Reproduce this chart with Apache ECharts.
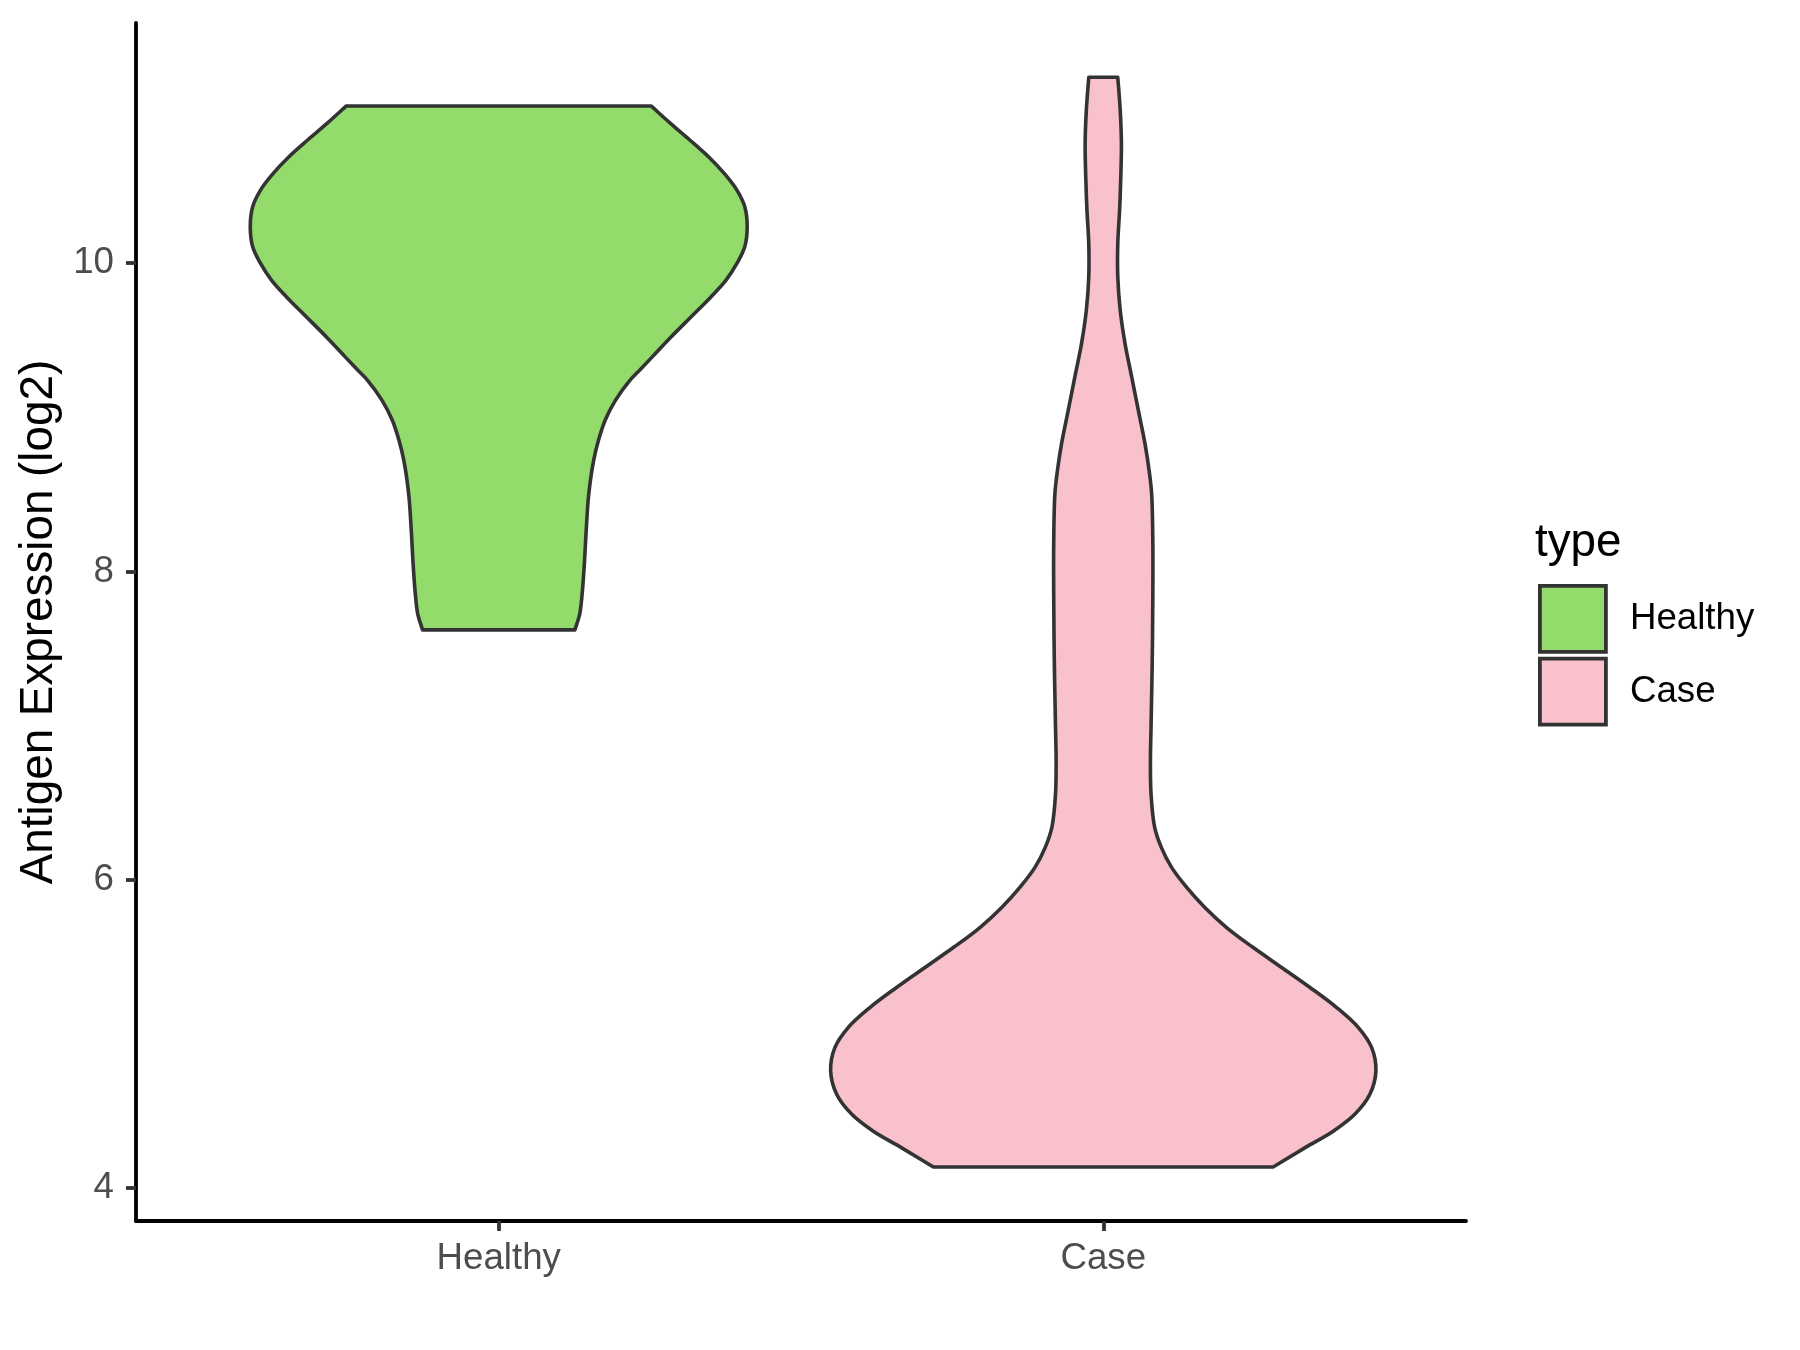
<!DOCTYPE html>
<html><head><meta charset="utf-8">
<script src="https://cdn.jsdelivr.net/npm/echarts@6/dist/echarts.min.js"></script>
<style>html,body{margin:0;padding:0;background:#fff}#c{width:1800px;height:1350px}</style>
</head><body><div id="c"></div>
<script>
const categories = ['Healthy', 'Case'];
const yTicks = [4, 6, 8, 10];
const yTitle = 'Antigen Expression (log2)';
const legendTitle = 'type';
// violin outline: y values and half-widths (in category-axis units)
const healthyY = [11.02, 10.907, 10.799, 10.690, 10.582, 10.474, 10.366, 10.236, 10.106, 9.998, 9.890, 9.781, 9.651, 9.521, 9.392, 9.305, 9.240, 9.110, 8.981, 8.851, 8.721, 8.505, 8.288, 8.071, 7.855, 7.725, 7.621];
const healthyHalfWidth = [0.252, 0.284, 0.316, 0.347, 0.373, 0.394, 0.407, 0.411, 0.407, 0.394, 0.376, 0.351, 0.318, 0.285, 0.254, 0.233, 0.217, 0.193, 0.176, 0.165, 0.157, 0.149, 0.145, 0.142, 0.138, 0.134, 0.126];
const caseY = [11.206, 10.994, 10.777, 10.56, 10.344, 10.128, 9.911, 9.695, 9.478, 9.262, 9.045, 8.829, 8.65, 8.505, 8.180, 7.855, 7.422, 6.989, 6.773, 6.557, 6.340, 6.210, 6.080, 5.950, 5.820, 5.690, 5.560, 5.431, 5.301, 5.171, 5.041, 4.911, 4.760, 4.608, 4.478, 4.370, 4.262, 4.136];
const caseHalfWidth = [0.024, 0.028, 0.030, 0.029, 0.027, 0.024, 0.024, 0.028, 0.036, 0.047, 0.058, 0.069, 0.076, 0.080, 0.082, 0.082, 0.081, 0.079, 0.078, 0.079, 0.085, 0.096, 0.113, 0.138, 0.168, 0.204, 0.248, 0.295, 0.342, 0.386, 0.422, 0.444, 0.451, 0.441, 0.416, 0.381, 0.334, 0.281];
const fillColors = ['#93DB6A', '#F8C1CC'];
const FONT = '"Liberation Sans", Arial, sans-serif';

// centripetal Catmull-Rom through screen points, as cubic Bezier segments
function crSegs(pts) {
  const dist = (a, b) => Math.pow(Math.hypot(b[0] - a[0], b[1] - a[1]), 0.5);
  let d = '';
  const n = pts.length;
  for (let i = 0; i < n - 1; i++) {
    const p1 = pts[i], p2 = pts[i + 1];
    const p0 = i > 0 ? pts[i - 1] : null, p3 = i + 2 < n ? pts[i + 2] : null;
    const d2 = dist(p1, p2);
    let c1, c2;
    if (p0) {
      const d1 = dist(p0, p1);
      const k = 3 * d1 * (d1 + d2);
      c1 = [0, 1].map(j => (d1 * d1 * p2[j] - d2 * d2 * p0[j] + (2 * d1 * d1 + 3 * d1 * d2 + d2 * d2) * p1[j]) / k);
    } else {
      c1 = [p1[0] + (p2[0] - p1[0]) / 3, p1[1] + (p2[1] - p1[1]) / 3];
    }
    if (p3) {
      const d3 = dist(p2, p3);
      const k = 3 * d3 * (d3 + d2);
      c2 = [0, 1].map(j => (d3 * d3 * p1[j] - d2 * d2 * p3[j] + (2 * d3 * d3 + 3 * d3 * d2 + d2 * d2) * p2[j]) / k);
    } else {
      c2 = [p2[0] - (p2[0] - p1[0]) / 3, p2[1] - (p2[1] - p1[1]) / 3];
    }
    d += ' C' + c1[0] + ',' + c1[1] + ' ' + c2[0] + ',' + c2[1] + ' ' + p2[0] + ',' + p2[1];
  }
  return d;
}
function violinItem(api, xc, ys, ws, color) {
  const left = ys.map((y, i) => api.coord([xc - ws[i], y]));
  const right = ys.map((y, i) => api.coord([xc + ws[i], y])).reverse();
  let d = 'M' + left[0][0] + ',' + left[0][1] + crSegs(left);
  d += ' L' + right[0][0] + ',' + right[0][1] + crSegs(right) + ' Z';
  return {
    type: 'path',
    shape: { pathData: d },
    style: { fill: color, stroke: '#333333', lineWidth: 3.6, lineJoin: 'round' }
  };
}

const chart = echarts.init(document.getElementById('c'));
chart.setOption({
  animation: false,
  backgroundColor: '#ffffff',
  grid: { left: 136, right: 334, top: 23, bottom: 129, containLabel: false, outerBoundsMode: 'none' },
  xAxis: {
    type: 'value', min: 0.4, max: 2.6,
    axisLine: { show: true, onZero: false, lineStyle: { color: '#000', width: 3.8 } },
    axisTick: { show: true, customValues: [1, 2], length: 10, lineStyle: { color: '#333', width: 3.8 } },
    axisLabel: { customValues: [1, 2], formatter: v => categories[Math.round(v) - 1], fontSize: 36.7, color: '#4D4D4D', fontFamily: FONT, margin: 19 },
    splitLine: { show: false }
  },
  yAxis: {
    type: 'value', min: 3.786, max: 11.558,
    name: yTitle, nameLocation: 'middle', nameRotate: 90, nameGap: 73,
    nameTextStyle: { fontSize: 45.8, color: '#000', fontFamily: FONT },
    axisLine: { show: true, onZero: false, lineStyle: { color: '#000', width: 3.8 } },
    axisTick: { show: true, customValues: yTicks, length: 10, lineStyle: { color: '#333', width: 3.8 } },
    axisLabel: { customValues: yTicks, fontSize: 36.7, color: '#4D4D4D', fontFamily: FONT, margin: 22 },
    splitLine: { show: false }
  },
  title: {
    text: legendTitle, left: 1535, top: 520, padding: 0,
    textStyle: { fontSize: 45.8, fontWeight: 'normal', color: '#000', fontFamily: FONT }
  },
  legend: {
    orient: 'vertical', left: 1538, top: 584, padding: 0,
    itemWidth: 66, itemHeight: 66, itemGap: 3,
    icon: 'rect',
    data: categories,
    itemStyle: { borderColor: '#333', borderWidth: 3.8 },
    textStyle: { fontSize: 36.7, color: '#000', fontFamily: FONT, padding: [8, 0, 0, 19] },
    selectedMode: false
  },
  series: [
    {
      name: categories[0], type: 'custom', coordinateSystem: 'cartesian2d',
      itemStyle: { color: fillColors[0], borderColor: '#333' },
      data: [[1, healthyY[0]]],
      renderItem: (params, api) => violinItem(api, 1, healthyY, healthyHalfWidth, fillColors[0])
    },
    {
      name: categories[1], type: 'custom', coordinateSystem: 'cartesian2d',
      itemStyle: { color: fillColors[1], borderColor: '#333' },
      data: [[2, caseY[0]]],
      renderItem: (params, api) => violinItem(api, 2, caseY, caseHalfWidth, fillColors[1])
    }
  ]
});
</script></body></html>
